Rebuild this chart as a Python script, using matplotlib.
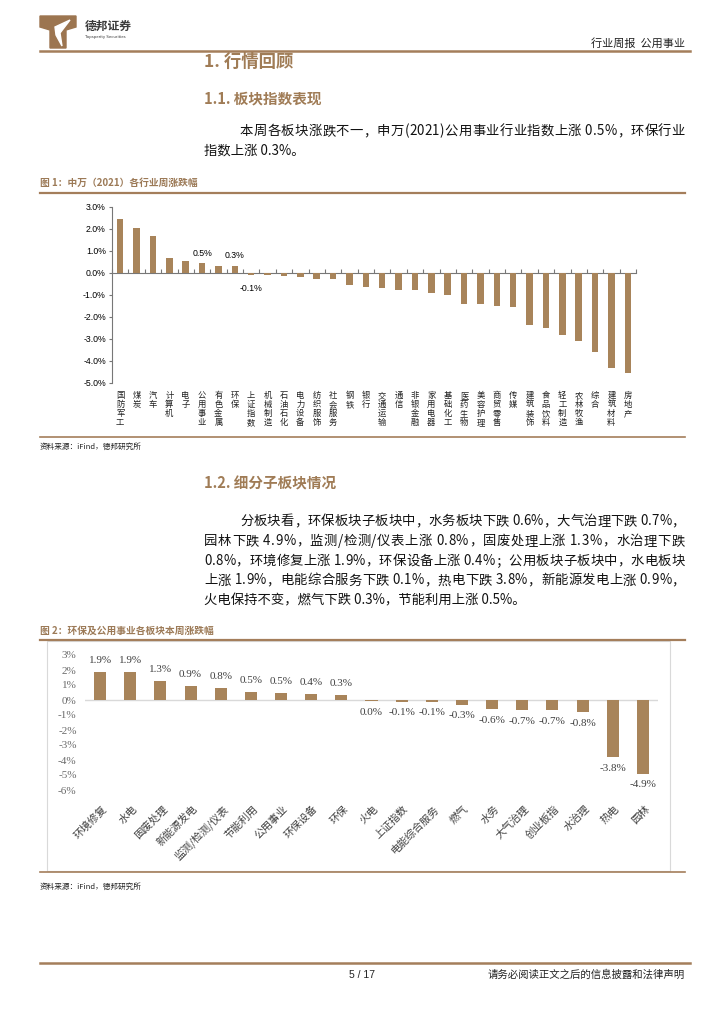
import matplotlib
matplotlib.use("Agg")
import matplotlib.pyplot as plt
import matplotlib.transforms as mtransforms
from matplotlib.patches import Rectangle, Polygon
import numpy as np

plt.rcParams['font.family'] = ['Noto Sans CJK SC', 'DejaVu Sans']

# ---- data: figure 1 (SW 2021 industries, weekly change %) ----
ind_names = ['国防军工', '煤炭', '汽车', '计算机', '电子', '公用事业', '有色金属', '环保',
             '上证指数', '机械制造', '石油石化', '电力设备', '纺织服饰', '社会服务', '钢铁', '银行',
             '交通运输', '通信', '非银金融', '家用电器', '基础化工', '医药生物', '美容护理', '商贸零售',
             '传媒', '建筑装饰', '食品饮料', '轻工制造', '农林牧渔', '综合', '建筑材料', '房地产']
ind_values = [2.45, 2.05, 1.70, 0.69, 0.55, 0.45, 0.33, 0.32,
              -0.08, -0.10, -0.15, -0.18, -0.27, -0.28, -0.54, -0.65,
              -0.68, -0.75, -0.78, -0.92, -1.00, -1.41, -1.43, -1.49,
              -1.56, -2.36, -2.48, -2.81, -3.09, -3.57, -4.32, -4.55]
ind_labelled = {5: '0.5%', 7: '0.3%', 8: '-0.1%'}

# ---- data: figure 2 (sub-sectors, weekly change %) ----
sub_names = ['环境修复', '水电', '固废处理', '新能源发电', '监测/检测/仪表', '节能利用', '公用事业',
             '环保设备', '环保', '火电', '上证指数', '电能综合服务', '燃气', '水务', '大气治理',
             '创业板指', '水治理', '热电', '园林']
sub_values = [1.9, 1.85, 1.3, 0.95, 0.8, 0.55, 0.48, 0.4, 0.35, -0.04, -0.1, -0.1, -0.3,
              -0.6, -0.65, -0.68, -0.8, -3.8, -4.9]
sub_labels = ['1.9%', '1.9%', '1.3%', '0.9%', '0.8%', '0.5%', '0.5%', '0.4%', '0.3%', '0.0%',
              '-0.1%', '-0.1%', '-0.3%', '-0.6%', '-0.7%', '-0.7%', '-0.8%', '-3.8%', '-4.9%']

para1 = ['本周各板块涨跌不一，申万(2021)公用事业行业指数上涨 0.5%，环保行业',
         '指数上涨 0.3%。']
para2 = ['分板块看，环保板块子板块中，水务板块下跌 0.6%，大气治理下跌 0.7%，',
         '园林下跌 4.9%，监测/检测/仪表上涨 0.8%，固废处理上涨 1.3%，水治理下跌',
         '0.8%，环境修复上涨 1.9%，环保设备上涨 0.4%；公用板块子板块中，水电板块',
         '上涨 1.9%，电能综合服务下跌 0.1%，热电下跌 3.8%，新能源发电上涨 0.9%，',
         '火电保持不变，燃气下跌 0.3%，节能利用上涨 0.5%。']

W, H = 724, 1024
BROWN = '#A47E5B'
BAR = '#A8845A'

fig = plt.figure(figsize=(W / 100, H / 100), dpi=100)
renderer = fig.canvas.get_renderer()


def fx(x):
    return x / W


def fy(y):
    return 1 - y / H


def box(x0, y0, x1, y1):
    return [fx(x0), fy(y1), (x1 - x0) / W, (y1 - y0) / H]


def hline(y, x0=40, x1=685, lw=1.5, color=BROWN):
    fig.add_artist(plt.Line2D([fx(x0), fx(x1)], [fy(y), fy(y)], color=color, lw=lw,
                              transform=fig.transFigure))


def txt(x, y, s, **kw):
    return fig.text(fx(x), fy(y), s, va='center', **kw)


def justified(x0, x1, y, s, size=9.6):
    # place characters one by one so the line fills x0..x1
    parts = [txt(x0, y, c, fontsize=size, color='#111111') for c in s]
    widths = [p.get_window_extent(renderer).width for p in parts]
    gap = (x1 - x0 - sum(widths)) / (len(s) - 1)
    x = x0
    for p, w in zip(parts, widths):
        p.set_x(fx(x))
        x += w + gap


# ---- page header ----
fig.add_artist(Polygon([(fx(40), fy(16)), (fx(76), fy(16)), (fx(76), fy(27)), (fx(66), fy(30)),
                        (fx(66), fy(48)), (fx(50), fy(48)), (fx(50), fy(30)), (fx(40), fy(27))],
                       closed=True, transform=fig.transFigure, color='#9C7550'))
fig.add_artist(Polygon([(fx(55), fy(27)), (fx(70), fy(20)), (fx(60), fy(33)), (fx(62), fy(46)),
                        (fx(56), fy(35))], closed=True, transform=fig.transFigure, color='white'))
txt(85, 26, '德邦证券', fontsize=8.5, fontweight='bold', color='#3a3a3a')
txt(85, 37, 'Topsperity Securities', fontsize=2.8, color='#3a3a3a', family='DejaVu Sans')
txt(685, 43, '行业周报  公用事业', fontsize=8, ha='right', color='#222222')
hline(51, 40, 690, lw=1.8)

# ---- headings and text ----
txt(204, 62, '1. 行情回顾', fontsize=12.5, fontweight='bold', color='#A07C56')
txt(204, 98, '1.1. 板块指数表现', fontsize=10.5, fontweight='bold', color='#A07C56')
justified(240, 685, 131, para1[0])
txt(204, 151, para1[1], fontsize=9.6, color='#111111')

txt(40, 183, '图 1：中万（2021）各行业周涨跌幅', fontsize=7, fontweight='bold', color='#9C7A57')
hline(193, lw=1.6)

# ---- figure 1 ----
ax1 = fig.add_axes(box(112, 207, 636, 383))
x1 = np.arange(len(ind_names))
ax1.bar(x1, ind_values, width=0.4, color=BAR, zorder=3)
ax1.set_xlim(-0.5, len(ind_names) - 0.5)
ax1.set_ylim(-5, 3)
ax1.set_yticks(np.arange(-5, 4))
ax1.set_yticklabels(['%.1f%%' % v for v in np.arange(-5, 4)], family='Liberation Sans',
                    fontsize=6.3)
ax1.spines['top'].set_visible(False)
ax1.spines['right'].set_visible(False)
ax1.spines['bottom'].set_position(('data', 0))
for s in ['left', 'bottom']:
    ax1.spines[s].set_color('#777777')
    ax1.spines[s].set_linewidth(0.8)
ax1.set_xticks(np.arange(-0.5, len(ind_names)))
ax1.tick_params(axis='x', direction='in', length=3, color='#777777', labelbottom=False)
ax1.tick_params(axis='y', direction='out', length=2.5, color='#777777', pad=2)
trans1 = mtransforms.blended_transform_factory(ax1.transData, ax1.transAxes)
for i, name in enumerate(ind_names):
    ax1.text(i, -0.045, '\n'.join(name), transform=trans1, ha='center', va='top',
             fontsize=6.0, linespacing=1.0, color='#222222')
for i, lab in ind_labelled.items():
    v = ind_values[i]
    ax1.annotate(lab, (i, v), xytext=(0, 4 if v > 0 else -7), textcoords='offset points',
                 ha='center', va='bottom' if v > 0 else 'top', fontsize=6.3,
                 family='Liberation Sans')

hline(437, lw=1.2)
txt(40, 447, '资料来源：iFind，德邦研究所', fontsize=5.5, color='#222222')

# ---- section 1.2 ----
txt(204, 483, '1.2. 细分子板块情况', fontsize=10.5, fontweight='bold', color='#A07C56')
for k, line in enumerate(para2):
    if k < len(para2) - 1:
        justified(240 if k == 0 else 204, 685, 521 + k * 19.8, line)
    else:
        txt(204, 521 + k * 19.8, line, fontsize=9.6, color='#111111')

txt(40, 631, '图 2：环保及公用事业各板块本周涨跌幅', fontsize=7, fontweight='bold', color='#9C7A57')
hline(640, lw=1.6)

# ---- figure 2 ----
fig.add_artist(Rectangle((fx(47), fy(871)), (670 - 47) / W, (871 - 641) / H,
                         transform=fig.transFigure, fill=False, edgecolor='#D9D9D9', lw=0.8))
ax2 = fig.add_axes(box(85, 655, 658, 790))
x2 = np.arange(len(sub_names))
ax2.bar(x2, sub_values, width=0.4, color=BAR, zorder=3)
ax2.axhline(0, color='#D9D9D9', lw=1.0, zorder=2)
ax2.set_xlim(-0.5, len(sub_names) - 0.5)
ax2.set_ylim(-6, 3)
ax2.set_yticks(np.arange(-6, 4))
ax2.set_yticklabels(['%d%%' % v for v in np.arange(-6, 4)], family='Liberation Serif',
                    fontsize=8, color='#6a6a6a')
ax2.set_xticks([])
for s in ax2.spines.values():
    s.set_visible(False)
ax2.tick_params(axis='y', length=0, pad=6)
ax2.patch.set_alpha(0)
for i, v in enumerate(sub_values):
    ax2.annotate(sub_labels[i], (i, v), xytext=(0, 5 if v > 0 else -5),
                 textcoords='offset points', ha='center', va='bottom' if v > 0 else 'top',
                 fontsize=8, family='Liberation Serif', color='#404040')
trans2 = mtransforms.blended_transform_factory(ax2.transData, ax2.transAxes)
for i, name in enumerate(sub_names):
    ax2.text(i + 0.05, -0.1, name, transform=trans2, rotation=45, rotation_mode='anchor',
             ha='right', va='top', fontsize=7.6, color='#404040')

hline(872, lw=1.2)
txt(40, 887, '资料来源：iFind，德邦研究所', fontsize=5.5, color='#222222')

# ---- footer ----
hline(963, 40, 690, lw=1.8)
txt(362, 975, '5 / 17', fontsize=7.5, ha='center', family='Liberation Sans', color='#222222')
txt(685, 975, '请务必阅读正文之后的信息披露和法律声明', fontsize=7.5, ha='right', color='#222222')

fig.savefig('out.png', dpi=100)
